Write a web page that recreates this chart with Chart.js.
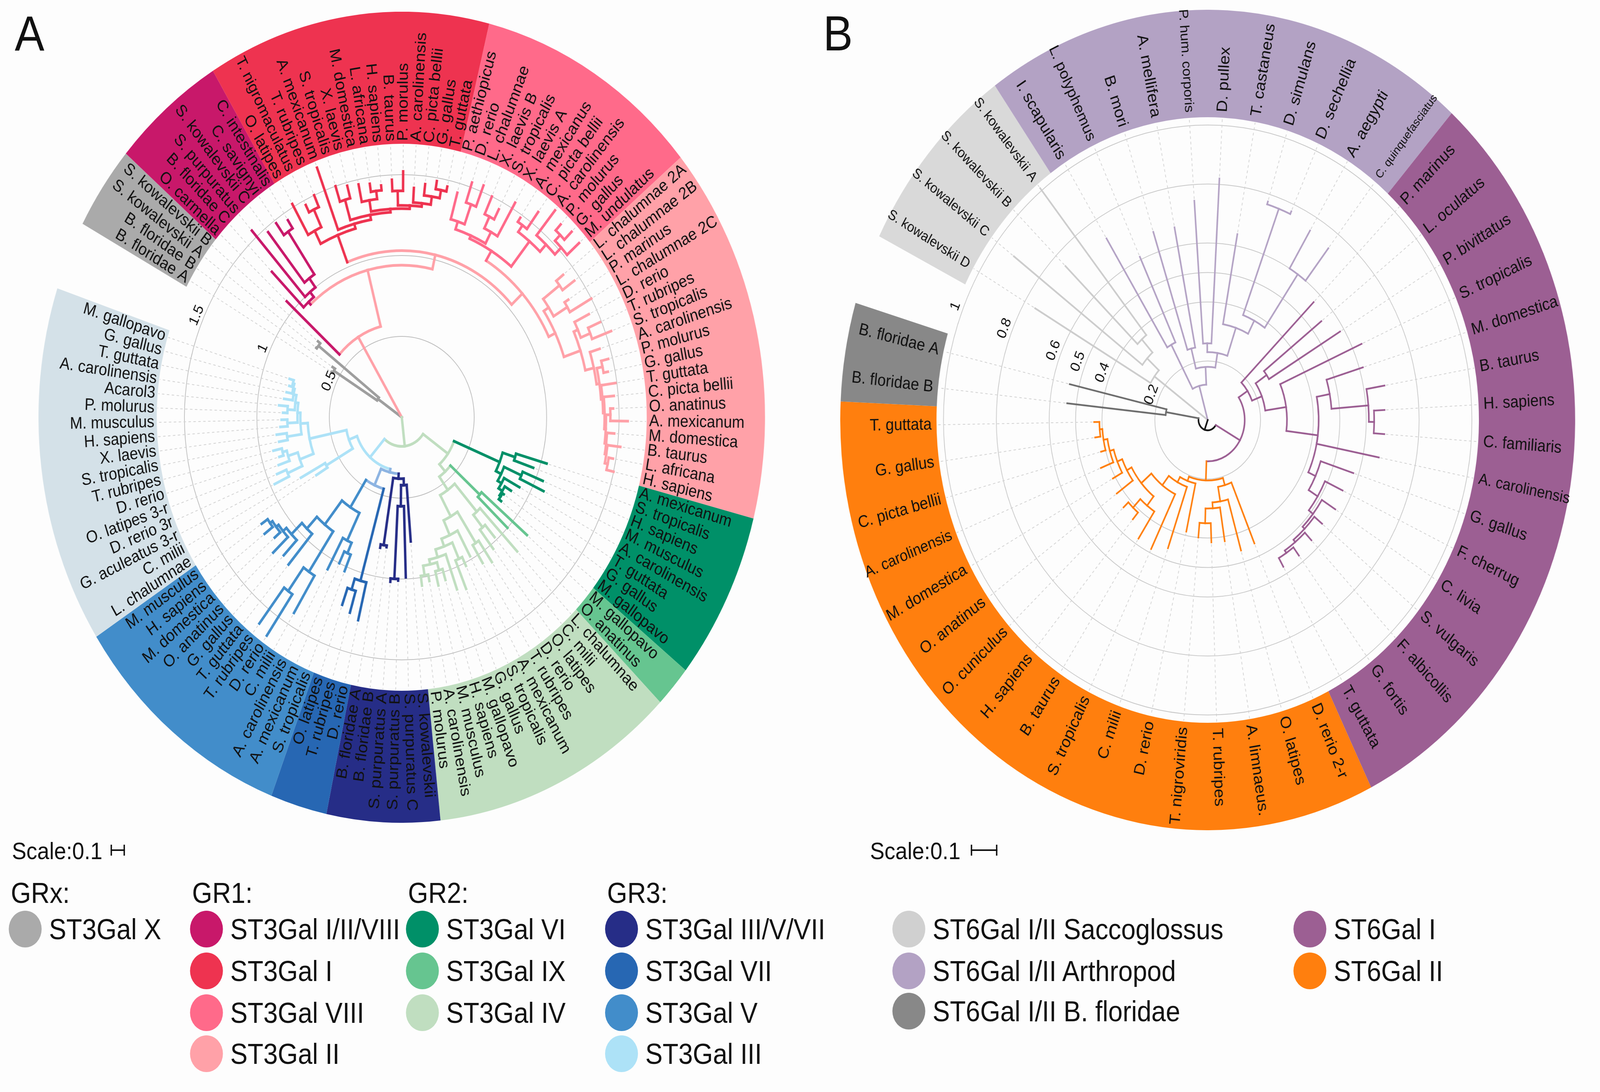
<!DOCTYPE html>
<html>
<head>
<meta charset="utf-8">
<title>ST3Gal and ST6Gal circular trees</title>
<script src="https://cdn.jsdelivr.net/npm/chart.js@4.4.1/dist/chart.umd.min.js"></script>
<style>
  html, body { margin: 0; overflow: hidden; }
  body { background: #fdfdfd; font-family: "Liberation Sans", Arial, Helvetica, sans-serif; color: #111; }
  #page { position: relative; width: 4572px; height: 2795px; overflow: hidden; background: #fdfdfd; }
  canvas { position: absolute; }
  .txt { position: absolute; white-space: nowrap; }
  .dot { position: absolute; border-radius: 50%; }
  .ink { position: absolute; background: #111; }
</style>
</head>
<body>
<div id="page">
  <canvas id="treeA" width="2076" height="2076" style="left:110px;top:30px"></canvas>
  <canvas id="ringA" width="2076" height="2076" style="left:110px;top:30px"></canvas>
  <canvas id="treeB" width="2100" height="2100" style="left:2401px;top:25px"></canvas>
  <canvas id="ringB" width="2100" height="2100" style="left:2401px;top:25px"></canvas>
</div>
<script>
const FONT = '"Liberation Sans", Arial, Helvetica, sans-serif';

// ---------------- Panel A : ST3Gal ----------------
// clades in clockwise order, starting after the empty sector
const cladesA = ['ST3Gal X', 'ST3Gal I/II/VIII', 'ST3Gal I', 'ST3Gal VIII', 'ST3Gal II',
  'ST3Gal VI', 'ST3Gal IX', 'ST3Gal IV', 'ST3Gal III/V/VII', 'ST3Gal VII', 'ST3Gal V', 'ST3Gal III'];
const leavesA = [
  ['B. floridae A', 'B. floridae B', 'S. kowalevskii A', 'S. kowalevskii B'],
  ['O. carmella', 'B. floridae C', 'S. purpuratus', 'S. kowalevskii C', 'C. savignyi', 'C. intestinalis'],
  ['O. latipes', 'T. nigromaculatus', 'T. rubripes', 'A. mexicanum', 'S. tropicalis', 'X. laevis', 'M. domestica',
   'L. africana', 'H. sapiens', 'B. taurus', 'P. morulus', 'A. carolinensis', 'C. picta bellii', 'G. gallus', 'T. guttata'],
  ['P. aethiopicus', 'D. rerio', 'L. chalumnae', 'X. laevis B', 'S. tropicalis', 'X. laevis A', 'A. mexicanus',
   'C. picta bellii', 'A. carolinensis', 'P. molurus', 'G. gallus', 'M. undulatus'],
  ['L. chalumnae 2A', 'L. chalumnae 2B', 'P. marinus', 'L. chalumnae 2C', 'D. rerio', 'T. rubripes', 'S. tropicalis',
   'A. carolinensis', 'P. molurus', 'G. gallus', 'T. guttata', 'C. picta bellii', 'O. anatinus', 'A. mexicanum',
   'M. domestica', 'B. taurus', 'L. africana', 'H. sapiens'],
  ['A. mexicanum', 'S. tropicalis', 'H. sapiens', 'M. musculus', 'A. carolinensis', 'T. guttata', 'G. gallus', 'M. gallopavo'],
  ['M. gallopavo', 'O. anatinus'],
  ['L. chalumnae', 'C. milii', 'O. latipes', 'D. rerio', 'T. rubripes', 'A. mexicanum', 'S. tropicalis', 'G. gallus',
   'M. gallopavo', 'H. sapiens', 'M. musculus', 'A. carolinensis', 'P. molurus'],
  ['S. kowalevskii', 'S. purpuratus C', 'S. purpuratus B', 'S. purpuratus A', 'B. floridae B', 'B. floridae A'],
  ['D. rerio', 'T. rubripes', 'O. latipes'],
  ['S. tropicalis', 'A. mexicanum', 'A. carolinensis', 'C. milii', 'D. rerio', 'T. rubripes', 'T. guttata', 'G. gallus',
   'O. anatinus', 'M. domestica', 'H. sapiens', 'M. musculus'],
  ['L. chalumnae', 'C. milii', 'G. aculeatus 3-r', 'D. rerio 3r', 'O. latipes 3-r', 'D. rerio', 'T. rubripes',
   'S. tropicalis', 'X. laevis', 'H. sapiens', 'M. musculus', 'P. molurus', 'Acarol3', 'A. carolinensis', 'T. guttata',
   'G. gallus', 'M. gallopavo']
];
const gapA = 3.3;                 // empty sector, in leaf widths
const startA = 208.5;             // degrees clockwise from 3 o'clock where the ring starts
const ticksA = [0.5, 1, 1.5];
const tickTextA = ['0.5', '1', '1.5'];
const legendHeadA = ['GRx:', 'GR1:', 'GR2:', 'GR3:'];
const legendColsA = [[0], [1, 2, 3, 4], [5, 6, 7], [8, 9, 10, 11]];

// trees: a leaf is its distance from the root, "(...)d" is a node at distance d, "#k" a colour group
const subX = '((0.56,0.57)0.55,(0.73,0.745)0.725)0.2#0';
const subMag = '(1.27,(1.55,(1.47,(1.48,1.45)1.39)1.07)1.0)0.96#1';
const subI = '((1.52,(1.47,1.50)1.42)1.30,(1.65,((1.50,1.48)1.40,((1.47,(1.46,1.44)1.41)1.36,((1.47,1.52)1.40,(1.42,(1.45,(1.48,1.46)1.43)1.38)1.33)1.31)1.29)1.27)1.24)1.21#2';
const subVIII = '(((1.44,(1.53,1.54)1.40)1.27,((1.50,1.45)1.38,1.54)1.30)1.22,((1.48,1.58)1.45,(1.66,((1.62,1.64)1.57,1.63)1.52)1.46)1.40)1.2#3';
const subII = '(((1.42,1.46)1.36,(1.36,1.50)1.33)1.22,((1.44,(1.49,1.54)1.40)1.33,(1.43,((1.47,1.45)1.42,(1.49,(1.47,((1.46,1.56)1.44,(1.47,(1.52,(1.48,1.50)1.45)1.43)1.42)1.41)1.40)1.39)1.38)1.36)1.30)1.18#4';
const subGR1 = `(1.07#1,(${subMag},(${subI},(${subVIII},${subII})1.13)1.03)0.94)0.58#4`;
const subVI = '((1.04,0.96)0.82,((1.05,1.08)0.90,(0.92,(0.88,(0.85,0.86)0.84)0.83)0.80)0.77)0.73#5';
const subIX = '(1.13,1.0)0.72#6';
const subIV = '((1.15,(0.98,1.03)0.88)0.78,((1.09,1.06)0.93,(0.98,((1.02,1.15)0.96,(1.13,((1.05,1.07)0.98,(1.03,1.05)0.99)0.93)0.90)0.85)0.80)0.70)0.55#7';
const subGR2 = `(${subVI},(${subIX},${subIV})0.45)0.39#7`;
const subNavy = '((0.77,(0.99,(1.01,1.02)1.0)0.55)0.42,(0.81,0.82)0.80)0.38#8';
const subVII = '(1.29,(1.26,1.23)1.12)1.05#9';
const subV = '(((1.03,1.00)0.92,1.07)0.85,((1.42,(1.64,1.61)1.33)1.15,(1.20,(1.18,(1.22,(1.15,(1.19,1.17)1.12)1.10)1.08)1.05)0.95)0.85)0.66#10';
const subIII = '((0.69,0.79)0.60,(((0.97,0.93)0.86,(0.90,(0.88,0.91)0.85)0.82)0.75,((0.86,0.87)0.80,((0.84,0.83)0.79,((0.82,0.85)0.79,(0.82,(0.81,(0.80,0.81)0.78)0.77)0.76)0.74)0.72)0.70)0.65)0.39#11';
const subGR3 = `((${subNavy},(${subVII},${subV})0.46#12)0.35#12,${subIII})0.33#11`;
const treeA = `(${subX},${subGR1},(${subGR2},${subGR3})0.18#7)0`;

// ---------------- Panel B : ST6Gal ----------------
const cladesB = ['ST6Gal I/II Saccoglossus', 'ST6Gal I/II Arthropod', 'ST6Gal I', 'ST6Gal II', 'ST6Gal I/II B. floridae'];
const leavesB = [
  ['S. kowalevskii D', 'S. kowalevskii C', 'S. kowalevskii B', 'S. kowalevskii A'],
  ['I. scapularis', 'L. polyphemus', 'B. mori', 'A. mellifera', 'P. hum. corporis', 'D. pullex', 'T. castaneus',
   'D. simulans', 'D. sechellia', 'A. aegypti', 'C. quinquefasciatus'],
  ['P. marinus', 'L. oculatus', 'P. bivittatus', 'S. tropicalis', 'M. domestica', 'B. taurus', 'H. sapiens',
   'C. familiaris', 'A. carolinensis', 'G. gallus', 'F. cherrug', 'C. livia', 'S. vulgaris', 'F. albicollis',
   'G. fortis', 'T. guttata'],
  ['D. rerio 2-r', 'O. latipes', 'A. limnaeus.', 'T. rubripes', 'T. nigroviridis', 'D. rerio', 'C. milii',
   'S. tropicalis', 'B. taurus', 'H. sapiens', 'O. cuniculus', 'O. anatinus', 'M. domestica', 'A. carolinensis',
   'C. picta bellii', 'G. gallus', 'T. guttata'],
  ['B. floridae B', 'B. floridae A']
];
const gapB = 1.43;
const startB = 206.6;
const ticksB = [0.2, 0.4, 0.5, 0.6, 0.8, 1];
const tickTextB = ['0.2', '0.4', '0.5', '0.6', '0.8', '1'];
const legendColsB = [[0, 1, 4], [2, 3]];

const subSk = '(0.755,(0.92,(0.75,1.01)0.37)0.31)0.25#0';
const subArth = '((0.725,0.61)0.29,((0.67,0.665)0.25,((0.745,0.82)0.26,(0.64,((0.775,0.775)0.765,(0.75,0.74)0.60)0.38)0.33)0.23)0.18)0.12#1';
const subST6I = '(0.566,((0.545,0.584)0.27,(0.637,((0.614,(0.679,(0.67,0.67)0.63)0.61)0.47,0.66,(0.58,(0.564,(0.57,(0.558,(0.566,(0.575,0.574)0.54)0.53)0.52)0.51)0.49)0.45)0.42)0.30)0.22)0.18#2';
const subST6II = '((0.454,(0.46,(0.416,(0.415,0.40)0.35)0.30)0.28)0.23,(0.387,(0.46,(0.487,((0.48,(0.44,0.435)0.41)0.37,(0.425,(0.41,(0.436,(0.418,(0.43,0.43)0.41)0.40)0.385)0.37)0.35)0.33)0.28)0.24)0.22)0.205#3';
const subBf = '(0.535,0.536)0.16#4';
const treeB = `(${subSk},${subArth},((${subST6I},${subST6II})0.14#2,${subBf})0.035#5)0`;

// ---------------- styles ----------------
const ringColorsA = ['#aaaaaa', '#c8186a', '#ee3350', '#ff6a8a', '#ffa1a8', '#009068', '#66c590', '#c0dec0',
  '#262d87', '#2767b3', '#428dca', '#d4e1e8'];
const treeColorsA = ['#9e9e9e', '#c8186a', '#ee3350', '#ff6a8a', '#ffa1a8', '#009068', '#66c590', '#c0dec0',
  '#262d87', '#2767b3', '#428dca', '#ade2f7', '#8db4e2'];
const legendColorsA = ['#aaaaaa', '#c8186a', '#ee3350', '#ff6a8a', '#ffa1a8', '#009068', '#66c590', '#c0dec0',
  '#262d87', '#2767b3', '#428dca', '#ade2f7'];
const ringColorsB = ['#d9d9d9', '#b3a2c4', '#9c5f93', '#ff7f0e', '#888888'];
const treeColorsB = ['#cccccc', '#b3a2c4', '#9c5f93', '#ff7f0e', '#6e6e6e', '#111111'];
const legendColorsB = ['#d0d0d0', '#b3a2c4', '#9c5f93', '#ff7f0e', '#888888'];

// ---------------- tree helpers ----------------
function parseTree(str) {
  let i = 0;
  const readNum = () => {
    const m = /^[0-9.]+/.exec(str.slice(i));
    i += m[0].length;
    return parseFloat(m[0]);
  };
  const readNode = () => {
    const node = { children: [], tag: null };
    if (str[i] === '(') {
      i++;
      node.children.push(readNode());
      while (str[i] === ',') { i++; node.children.push(readNode()); }
      i++; // ')'
    }
    node.depth = readNum();
    if (str[i] === '#') { i++; node.tag = readNum(); }
    return node;
  };
  return readNode();
}

function placeTree(node, angles, parentTag, counter, tips) {
  if (node.tag === null) node.tag = parentTag;
  if (!node.children.length) {
    node.angle = angles[counter.k++];
    tips.push(node);
    return;
  }
  node.children.forEach(c => placeTree(c, angles, node.tag, counter, tips));
  node.angle = (node.children[0].angle + node.children[node.children.length - 1].angle) / 2;
}

// point of the radial scale at a given angle and pixel distance from its centre
function polarPoint(scale, angle, dist) {
  if (typeof scale.getPointPositionForAngle === 'function') return scale.getPointPositionForAngle(angle, dist);
  return { x: scale.xCenter + Math.cos(angle) * dist, y: scale.yCenter + Math.sin(angle) * dist };
}

function drawBranches(ctx, scale, node, colors) {
  const r0 = scale.getDistanceFromCenterForValue(node.depth);
  node.children.forEach(child => {
    const r1 = scale.getDistanceFromCenterForValue(child.depth);
    if (r0 > 0 && Math.abs(child.angle - node.angle) > 1e-6) {
      ctx.strokeStyle = colors[node.tag];
      ctx.beginPath();
      ctx.arc(scale.xCenter, scale.yCenter, r0, node.angle, child.angle, child.angle < node.angle);
      ctx.stroke();
    }
    const p0 = polarPoint(scale, child.angle, r0);
    const p1 = polarPoint(scale, child.angle, r1);
    ctx.strokeStyle = colors[child.tag];
    ctx.beginPath();
    ctx.moveTo(p0.x, p0.y);
    ctx.lineTo(p1.x, p1.y);
    ctx.stroke();
    drawBranches(ctx, scale, child, colors);
  });
}

function leafAngles(ring, leaves) {
  const arcs = ring.getDatasetMeta(0).data;
  const out = [];
  leaves.forEach((names, k) => {
    const arc = arcs[k];
    const step = (arc.endAngle - arc.startAngle) / names.length;
    names.forEach((n, j) => out.push(arc.startAngle + (j + 0.5) * step));
  });
  return out;
}

// leaf names written radially inside the coloured ring
function labelPlugin(cfg) {
  return {
    id: 'leafLabels',
    afterDatasetsDraw(chart) {
      const ctx = chart.ctx;
      const arcs = chart.getDatasetMeta(0).data;
      ctx.save();
      ctx.fillStyle = '#111';
      ctx.textBaseline = 'middle';
      cfg.leaves.forEach((names, k) => {
        const arc = arcs[k];
        const step = (arc.endAngle - arc.startAngle) / names.length;
        names.forEach((name, j) => {
          const a = arc.startAngle + (j + 0.5) * step;
          let size = cfg.labelSize;
          ctx.font = `${size}px ${FONT}`;
          const w = ctx.measureText(name).width;
          if (w > cfg.labelMax) {
            size = size * cfg.labelMax / w;
            ctx.font = `${size}px ${FONT}`;
          }
          let deg = (a * 180 / Math.PI) % 360;
          if (deg < 0) deg += 360;
          const flip = deg > 90 && deg < 270;
          ctx.save();
          ctx.translate(arc.x, arc.y);
          ctx.rotate(flip ? a + Math.PI : a);
          ctx.textAlign = flip ? 'right' : 'left';
          const d = arc.innerRadius + cfg.labelPad;
          ctx.fillText(name, flip ? -d : d, 0);
          ctx.restore();
        });
      });
      ctx.restore();
    }
  };
}

function treePlugin(cfg, ring, root) {
  return {
    id: 'tree',
    afterDatasetsDraw(chart) {
      const scale = chart.scales.r;
      const ctx = chart.ctx;
      const tips = [];
      placeTree(root, leafAngles(ring, cfg.leaves), 0, { k: 0 }, tips);
      const ringInner = ring.getDatasetMeta(0).data[0].innerRadius;

      // dashed guides from each tip out to the ring
      ctx.save();
      ctx.strokeStyle = '#d2d2d2';
      ctx.lineWidth = 2;
      ctx.setLineDash([7, 7]);
      tips.forEach(t => {
        const p0 = polarPoint(scale, t.angle, scale.getDistanceFromCenterForValue(t.depth) + cfg.lineWidth);
        const p1 = polarPoint(scale, t.angle, ringInner - 2);
        ctx.beginPath();
        ctx.moveTo(p0.x, p0.y);
        ctx.lineTo(p1.x, p1.y);
        ctx.stroke();
      });
      ctx.restore();

      ctx.save();
      ctx.lineWidth = cfg.lineWidth;
      ctx.lineCap = 'square';
      drawBranches(ctx, scale, root, cfg.treeColors);
      ctx.restore();

      // distance labels along one ray, written across it
      const ta = cfg.tickAngle * Math.PI / 180;
      ctx.save();
      ctx.fillStyle = '#111';
      ctx.font = `${cfg.tickSize}px ${FONT}`;
      ctx.textAlign = 'center';
      ctx.textBaseline = 'middle';
      cfg.ticks.forEach((v, i) => {
        const p = polarPoint(scale, ta, scale.getDistanceFromCenterForValue(v) + cfg.tickGap);
        ctx.save();
        ctx.translate(p.x, p.y);
        ctx.rotate(ta + Math.PI / 2);
        ctx.fillText(cfg.tickText[i], 0, 0);
        ctx.restore();
      });
      ctx.restore();
    }
  };
}

function buildPanel(cfg) {
  const counts = cfg.leaves.map(l => l.length);
  const ring = new Chart(document.getElementById(cfg.ringId), {
    type: 'doughnut',
    data: {
      labels: cfg.clades.concat(['']),
      datasets: [{
        data: counts.concat([cfg.gap]),
        backgroundColor: cfg.ringColors.concat(['rgba(0,0,0,0)']),
        borderWidth: 0
      }]
    },
    options: {
      responsive: false,
      animation: false,
      devicePixelRatio: 1,
      events: [],
      rotation: cfg.start + 90,
      cutout: cfg.ringInner,
      plugins: { legend: { display: false }, tooltip: { enabled: false } }
    },
    plugins: [labelPlugin(cfg)]
  });

  const root = parseTree(cfg.tree);
  const tree = new Chart(document.getElementById(cfg.treeId), {
    type: 'polarArea',
    data: { labels: [], datasets: [{ data: [] }] },
    options: {
      responsive: false,
      animation: false,
      devicePixelRatio: 1,
      events: [],
      plugins: { legend: { display: false }, tooltip: { enabled: false } },
      scales: {
        r: {
          min: 0,
          max: cfg.size / 2 / cfg.unitPx,
          ticks: { display: false, stepSize: cfg.step },
          angleLines: { display: false },
          pointLabels: { display: false },
          grid: {
            circular: true,
            lineWidth: 2,
            color: c => (c.tick && cfg.ticks.some(v => Math.abs(v - c.tick.value) < 1e-6)) ? cfg.gridColor : 'rgba(0,0,0,0)'
          }
        }
      }
    },
    plugins: [treePlugin(cfg, ring, root)]
  });
  return tree;
}

const chartA = buildPanel({
  ringId: 'ringA', treeId: 'treeA', size: 2076, ringInner: 700, unitPx: 414, step: 0.5,
  clades: cladesA, leaves: leavesA, gap: gapA, start: startA, tree: treeA,
  ticks: ticksA, tickText: tickTextA, tickAngle: 204, tickGap: 20, tickSize: 38,
  ringColors: ringColorsA, treeColors: treeColorsA, gridColor: '#bdbdbd',
  lineWidth: 7, labelSize: 43, labelPad: 7, labelMax: 324
});
const chartB = buildPanel({
  ringId: 'ringB', treeId: 'treeB', size: 2100, ringInner: 775, unitPx: 755, step: 0.1,
  clades: cladesB, leaves: leavesB, gap: gapB, start: startB, tree: treeB,
  ticks: ticksB, tickText: tickTextB, tickAngle: 202, tickGap: 22, tickSize: 38,
  ringColors: ringColorsB, treeColors: treeColorsB, gridColor: '#c8c8c8',
  lineWidth: 4.5, labelSize: 43, labelPad: 14, labelMax: 265
});

// ---------------- text, legends, scale bars ----------------
const page = document.getElementById('page');
function addText(text, x, baseline, size) {
  const d = document.createElement('div');
  d.className = 'txt';
  d.textContent = text;
  d.style.left = x + 'px';
  d.style.top = (baseline - 0.8465 * size) + 'px';
  d.style.fontSize = size + 'px';
  d.style.lineHeight = size + 'px';
  page.appendChild(d);
}
function addBox(cls, x, y, w, h, color) {
  const d = document.createElement('div');
  d.className = cls;
  d.style.left = x + 'px';
  d.style.top = y + 'px';
  d.style.width = w + 'px';
  d.style.height = h + 'px';
  if (color) d.style.background = color;
  page.appendChild(d);
}
function addEntry(name, color, cx, cy) {
  addBox('dot', cx - 47, cy - 47, 94, 94, color);
  addText(name, cx + 68, cy + 26.5, 74);
}
function addScaleBar(x, y, len) {
  addBox('ink', x, y - 2, len, 4);
  addBox('ink', x, y - 14, 4, 28);
  addBox('ink', x + len - 4, y - 14, 4, 28);
}

addText('A', 42, 130, 127);
addText('B', 2352, 130, 127);

addText('Scale:0.1', 34, 2199, 62);
addScaleBar(316, 2176, chartA.scales.r.getDistanceFromCenterForValue(0.1));
addText('Scale:0.1', 2486, 2199, 62);
addScaleBar(2774, 2176, chartB.scales.r.getDistanceFromCenterForValue(0.1));

const legendXA = [72, 590, 1207, 1776];
const legendRowY = [2378, 2485, 2592, 2697];
legendColsA.forEach((col, c) => {
  addText(legendHeadA[c], legendXA[c] - 41, 2312, 74);
  col.forEach((k, r) => addEntry(cladesA[k], legendColorsA[k], legendXA[c], legendRowY[r]));
});
const legendXB = [2597, 3743];
const legendRowYB = [2378, 2485, 2588];
legendColsB.forEach((col, c) => {
  col.forEach((k, r) => addEntry(cladesB[k], legendColorsB[k], legendXB[c], legendRowYB[r]));
});

// the figure is laid out on a 4572 x 2795 sheet; fit that sheet to the actual window
function fitPage() {
  const w = document.documentElement.clientWidth || window.innerWidth;
  const h = document.documentElement.clientHeight || window.innerHeight;
  if (!w || !h) return;
  page.style.transformOrigin = '0 0';
  page.style.transform = `scale(${w / 4572}, ${h / 2795})`;
}
fitPage();
window.addEventListener('resize', fitPage);
</script>
</body>
</html>
